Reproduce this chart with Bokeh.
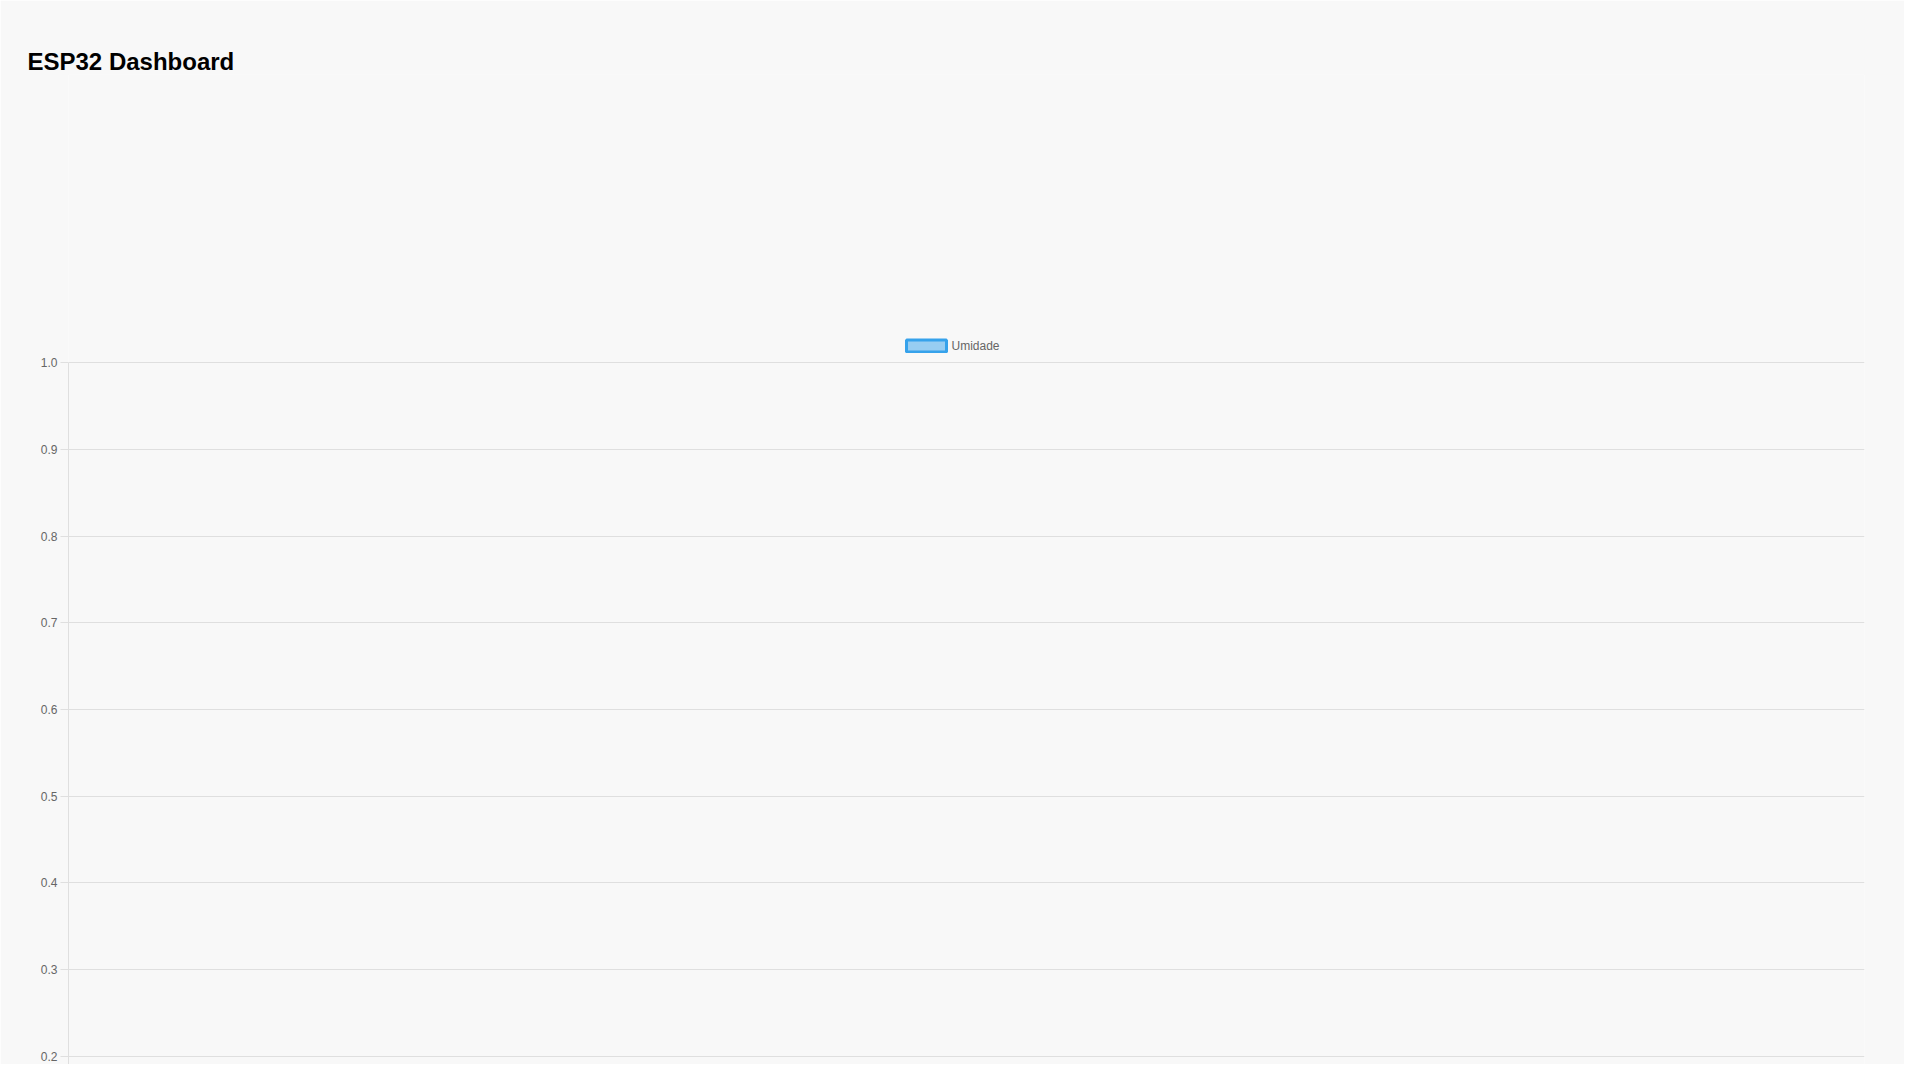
from bokeh.plotting import figure
from bokeh.models import (Range1d, Legend, LegendItem, FixedTicker, PrintfTickFormatter)
from bokeh.embed import file_html
from bokeh.resources import INLINE

# ---- data (the dashboard has no readings yet: one empty placeholder reading) ----
title_text = "ESP32 Dashboard"
series_name = "Umidade"
timestamps = [None]
umidade = [None]
y_tick_values = [0.0, 0.1, 0.2, 0.3, 0.4, 0.5, 0.6, 0.7, 0.8, 0.9, 1.0]
y_axis_max = 1.0

BG = "#f8f8f8"
GRID = "#dfdfdf"
FONT = "Liberation Sans"

W, H = 1904, 1064
LEFT, RIGHT, TOP, BOTTOM = 68, 40, 74, 0
PX_PER_UNIT = 866.5           # vertical pixels per 1.0 of the y axis
Y1_PX = 362.3                 # pixel row of the 1.0 grid line
y_end = y_axis_max + (Y1_PX - TOP) / PX_PER_UNIT
y_start = y_axis_max - (H - BOTTOM - Y1_PX) / PX_PER_UNIT

p = figure(width=W, height=H, output_backend="svg", toolbar_location=None,
           x_axis_location=None, x_range=Range1d(0, 1),
           y_range=Range1d(y_start, y_end),
           min_border_left=LEFT, min_border_right=RIGHT, min_border_top=TOP,
           min_border_bottom=BOTTOM, background_fill_color=BG, border_fill_color=BG,
           outline_line_color=None)

r = p.patch(x=timestamps, y=umidade, fill_color="rgba(54,162,235,0.5)",
            line_color="rgb(54,162,235)", line_width=3)

ax = p.yaxis[0]
ax.ticker = FixedTicker(ticks=y_tick_values)
ax.formatter = PrintfTickFormatter(format="%.1f")
ax.bounds = (0.0, y_axis_max + 1e-4)
ax.axis_line_color = GRID
ax.major_tick_line_color = GRID
ax.major_tick_out = 8
ax.major_tick_in = 0
ax.minor_tick_line_color = None
ax.major_label_standoff = 3
ax.major_label_text_font = FONT
ax.major_label_text_font_size = "12px"
ax.major_label_text_color = "#666666"

p.xgrid.visible = False
p.ygrid.grid_line_color = GRID
p.ygrid.ticker = ax.ticker
p.ygrid.bounds = (0.0, y_axis_max + 1e-4)

# Bokeh insets area swatches by 10% per side: a 50x15 slot gives a 40x12 box
legend = Legend(items=[LegendItem(label=series_name, renderers=[r])],
                location=(832.5, 711), orientation="horizontal",
                glyph_width=50, glyph_height=15, label_height=12,
                label_standoff=1, padding=0, margin=0, spacing=0,
                label_text_font=FONT, label_text_font_size="12px",
                label_text_color="#666666", background_fill_alpha=0,
                border_line_color=None)
p.add_layout(legend, "center")

p.title.text = title_text
p.title.align = "left"
p.title.offset = 27 - LEFT
p.title.standoff = 0
p.title.text_font = FONT
p.title.text_font_size = "24px"
p.title.text_font_style = "bold"
p.title.text_color = "#000000"

open("out.html", "w").write(file_html(p, INLINE))
